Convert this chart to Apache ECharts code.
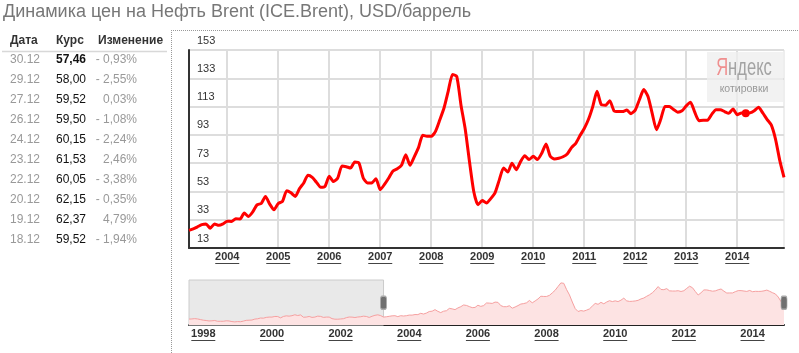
<!DOCTYPE html>
<html>
<head>
<meta charset="utf-8">
<script src="https://cdn.jsdelivr.net/npm/echarts@6/dist/echarts.min.js"></script>
<style>
html, body { margin: 0; padding: 0; background: #fff; }
#chart { width: 799px; height: 353px; }
</style>
</head>
<body>
<div id="chart"></div>
<script>
// monthly Brent, Apr 2003 .. Dec 2014
var brent = [
    25.5, 26.5, 28, 29.5, 30, 27, 30, 29, 30,
    32, 31.8, 33.7, 33.5, 37.7, 35.3, 38.5, 43.5, 44.5, 49.5, 44, 40,
    44.5, 46, 53.5, 52, 49.5, 55, 59, 64.5, 63, 59.4, 55.9, 56.6,
    63.7, 60, 62.5, 71, 70.5, 69.5, 73.8, 73, 62.5, 59, 59, 62,
    54.2, 58, 62.5, 67.5, 69, 71.5, 79, 71.5, 77.5, 84, 92.7, 92,
    92, 95.5, 103.5, 112, 124, 135.6, 134.4, 114, 97, 74, 53, 43.6,
    46.5, 44.8, 47.9, 51.9, 61, 69.6, 66.7, 73, 68.4, 74, 78.3, 75.5,
    77.8, 75.5, 80, 86.5, 77.8, 76, 76.5, 77.5, 79.5, 84, 87, 92.5,
    97.5, 104, 113, 123.8, 114.4, 113.9, 117.2, 110, 109.5, 109.5, 110.5, 108,
    110.5, 118, 125, 120.2, 108, 96.6, 104, 113, 113, 111, 109, 110,
    113.5, 116, 109, 103, 103.3, 103.3, 107.5, 110.8, 110.8, 109.5, 108.2, 111.3,
    107.3, 108.5, 108.2, 108.5, 110, 112.5, 108.5, 104, 100, 90, 75, 63
];
// monthly Brent, Aug 1997 .. Mar 2003 (navigator only)
var brentEarly = [
    19, 19.5, 20.5, 19.5, 17.5,
    15.5, 14.5, 13, 13.5, 14.5, 12, 12, 12, 13.5, 13, 11, 10,
    11, 10.5, 12.5, 15, 15.5, 16, 19, 20, 22.5, 22, 24.5, 25.5,
    25.5, 27.5, 27.3, 23, 27.5, 29.5, 28.5, 30, 33, 30.5, 32.5, 25,
    25.5, 27.5, 24.5, 25.5, 28.5, 27.7, 24.5, 25.5, 25.5, 20.5, 18.7, 18.6,
    19.4, 20.3, 23.7, 25.7, 25.4, 24.1, 25.7, 26.6, 28.4, 27.5, 24.3, 28.2,
    31.2, 32.8, 30.3
];
var yTicks = [13, 33, 53, 73, 93, 113, 133, 153];
var mainYears = [2004, 2005, 2006, 2007, 2008, 2009, 2010, 2011, 2012, 2013, 2014];
var navYears = [1998, 2000, 2002, 2004, 2006, 2008, 2010, 2012, 2014];
var markMonth = '2014-03';
var markValue = 108.2;

var tableHead = ['Дата', 'Курс', 'Изменение'];
var tableDates = ['30.12', '29.12', '27.12', '26.12', '24.12', '23.12', '22.12', '20.12', '19.12', '18.12'];
var tableRates = ['57,46', '58,00', '59,52', '59,50', '60,15', '61,53', '60,05', '62,15', '62,37', '59,52'];
var tableChanges = ['- 0,93%', '- 2,55%', '0,03%', '- 1,08%', '- 2,24%', '2,46%', '- 3,38%', '- 0,35%', '4,79%', '- 1,94%'];

// months as 'YYYY-MM' starting at y/m
function monthList(y, m, n) {
    var out = [];
    for (var i = 0; i < n; i++) {
        var k = m - 1 + i;
        var mo = k % 12 + 1;
        out.push((y + Math.floor(k / 12)) + '-' + (mo < 10 ? '0' : '') + mo);
    }
    return out;
}
// 'YYYY-MM' -> fractional year, used as position on the value axis
function yearPos(s) {
    var p = s.split('-');
    return +p[0] + (p[1] - 1) / 12;
}

var mainMonths = monthList(2003, 4, brent.length);
var navValues = brentEarly.concat(brent);
var navMonths = monthList(1997, 8, navValues.length);
var mainData = mainMonths.map(function (d, i) { return [yearPos(d), brent[i]]; });
var navData = navMonths.map(function (d, i) { return [yearPos(d), navValues[i]]; });

var font = 'Liberation Sans, Arial, sans-serif';

function yearLabel(v) {
    return '{y|' + Math.round(v) + '}\n{u|}';
}
var yearRich = {
    y: { fontFamily: font, fontSize: 11, fontWeight: 'bold', color: '#333', lineHeight: 10 },
    u: { width: 24, height: 1, backgroundColor: '#444', lineHeight: 3 }
};

var graphics = [];
graphics.push({
    type: 'text', left: 3, top: 3,
    style: { text: 'Динамика цен на Нефть Brent (ICE.Brent), USD/баррель', font: '18px ' + font, fill: '#777' }
});
// left table
var headX = [10, 56, 98];
tableHead.forEach(function (h, i) {
    graphics.push({
        type: 'text', x: headX[i], y: 41,
        style: { text: h, font: 'bold 12px ' + font, fill: '#333', verticalAlign: 'middle' }
    });
});
graphics.push({
    type: 'line', shape: { x1: 2, y1: 51.5, x2: 167, y2: 51.5 },
    style: { stroke: '#d8d8d8', lineWidth: 1.5 }
});
tableDates.forEach(function (d, i) {
    var y = 60 + i * 20;
    graphics.push({
        type: 'text', x: 10, y: y,
        style: { text: d, font: '12px ' + font, fill: '#999', verticalAlign: 'middle' }
    });
    graphics.push({
        type: 'text', x: 56, y: y,
        style: { text: tableRates[i], font: (i === 0 ? 'bold ' : '') + '12px ' + font, fill: '#111', verticalAlign: 'middle' }
    });
    graphics.push({
        type: 'text', x: 137, y: y,
        style: { text: tableChanges[i], font: '12px ' + font, fill: '#999', align: 'right', verticalAlign: 'middle' }
    });
});
// dotted frame
graphics.push({
    type: 'line', shape: { x1: 171.5, y1: 30, x2: 171.5, y2: 353 },
    style: { stroke: '#999', lineWidth: 1, lineDash: [1, 1] }
});
graphics.push({
    type: 'line', shape: { x1: 171, y1: 30.5, x2: 799, y2: 30.5 },
    style: { stroke: '#999', lineWidth: 1, lineDash: [1, 1] }
});
// Yandex badge
graphics.push({
    type: 'rect', shape: { x: 707, y: 52, width: 76, height: 50 },
    style: { fill: 'rgba(238,238,238,0.75)' }, z: 10
});
graphics.push({
    type: 'text', x: 744, y: 69, z: 11, scaleX: 0.72,
    style: {
        text: '{a|Я}{b|ндекс}', align: 'center', verticalAlign: 'middle',
        rich: {
            a: { font: '23px ' + font, fill: '#ef8f8f' },
            b: { font: '23px ' + font, fill: '#a3a3a3' }
        }
    }
});
graphics.push({
    type: 'text', x: 744, y: 89, z: 11,
    style: { text: 'котировки', font: '10.5px ' + font, fill: '#999', align: 'center', verticalAlign: 'middle' }
});

var chart = echarts.init(document.getElementById('chart'));
chart.setOption({
    animation: false,
    backgroundColor: '#fff',
    graphic: graphics,
    grid: [
        { left: 189, right: 15, top: 50, bottom: 105, show: true, borderColor: '#ddd', borderWidth: 1 },
        { left: 189, right: 15, top: 280, bottom: 28 }
    ],
    xAxis: [
        {
            type: 'value', gridIndex: 0,
            min: mainData[0][0], max: mainData[mainData.length - 1][0],
            axisLine: { show: true, onZero: false, lineStyle: { color: '#333', width: 2 } },
            axisTick: { show: false, customValues: mainYears },
            axisLabel: { customValues: mainYears, formatter: yearLabel, rich: yearRich, margin: 4 },
            splitLine: { show: true, lineStyle: { color: '#ddd', width: 2 } }
        },
        {
            type: 'value', gridIndex: 1,
            min: navData[0][0], max: navData[navData.length - 1][0],
            axisLine: { show: true, onZero: false, lineStyle: { color: '#222', width: 2 } },
            axisTick: { show: false, customValues: navYears },
            axisLabel: { customValues: navYears, formatter: yearLabel, rich: yearRich, margin: 4 },
            splitLine: { show: false }
        }
    ],
    yAxis: [
        {
            type: 'value', gridIndex: 0, min: 13, max: 153,
            axisLine: { show: true, onZero: false, lineStyle: { color: '#333', width: 2 } },
            axisTick: { show: false, customValues: yTicks },
            axisLabel: {
                customValues: yTicks, inside: true, margin: 8,
                verticalAlign: 'bottom', padding: [0, 0, 4, 0],
                fontFamily: font, fontSize: 11, color: '#333'
            },
            splitLine: { show: true, lineStyle: { color: '#ddd', width: 2 } }
        },
        {
            type: 'value', gridIndex: 1, min: 0, max: 145,
            show: false, splitLine: { show: false }
        }
    ],
    series: [
        {
            type: 'line', xAxisIndex: 0, yAxisIndex: 0,
            data: mainData, showSymbol: false, smooth: 0.2,
            lineStyle: { color: '#ff0000', width: 3 },
            markPoint: {
                silent: true,
                data: [{ coord: [yearPos(markMonth), markValue], symbol: 'circle', symbolSize: 8 }],
                itemStyle: { color: '#ff0000' },
                label: { show: false }
            }
        },
        {
            type: 'line', xAxisIndex: 1, yAxisIndex: 1,
            data: navData, showSymbol: false,
            lineStyle: { color: '#f6a0a0', width: 1 },
            areaStyle: { color: '#fde3e3', opacity: 1 },
            markArea: {
                silent: true,
                itemStyle: { color: 'rgba(215,215,215,0.55)', borderColor: '#ccc', borderWidth: 1 },
                data: [[{ xAxis: navData[0][0] }, { xAxis: mainData[0][0] }]]
            },
            markPoint: {
                silent: true,
                symbol: 'roundRect', symbolSize: [6, 13],
                itemStyle: { color: '#707070', borderColor: '#aaa', borderWidth: 1 },
                label: { show: false },
                data: [
                    { coord: [mainData[0][0], 72] },
                    { coord: [navData[navData.length - 1][0], 72] }
                ]
            }
        }
    ]
});
</script>
</body>
</html>
